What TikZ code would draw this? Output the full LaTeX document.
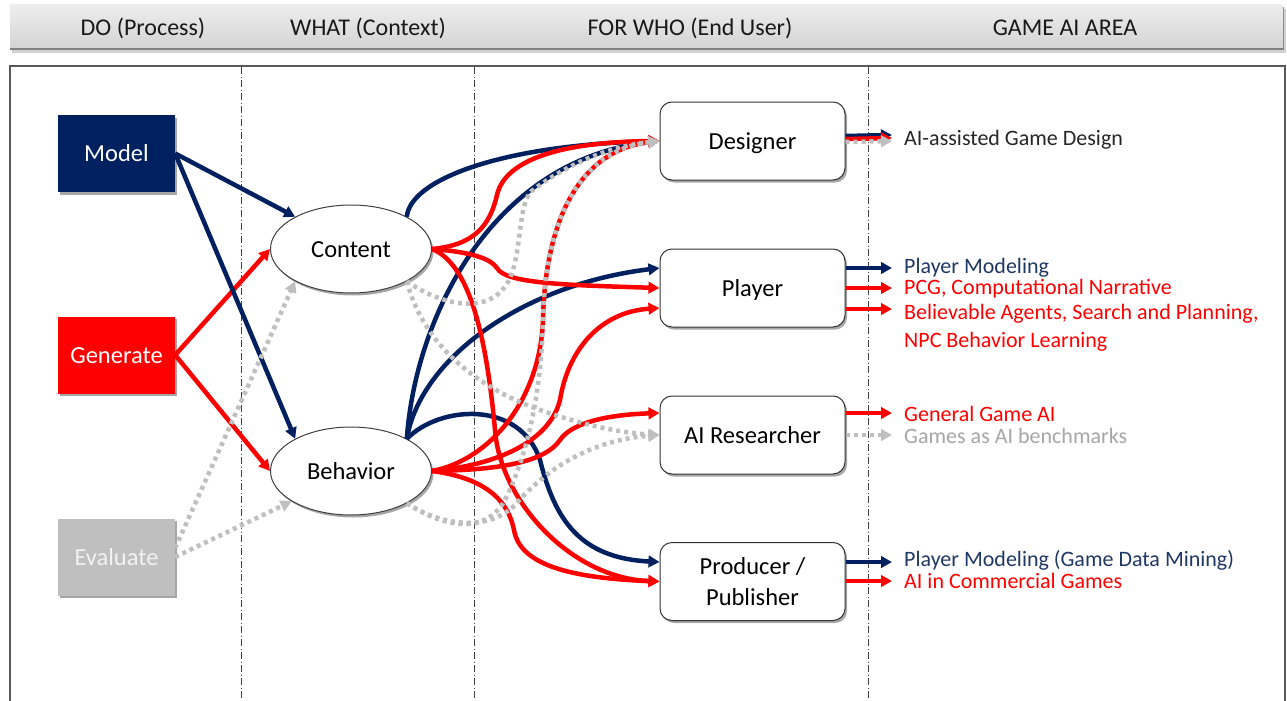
\documentclass[tikz,border=0pt]{standalone}
\usepackage{fontspec}
\setmainfont{Carlito}
\usetikzlibrary{arrows.meta,shapes.geometric,shadows,calc}
\definecolor{navy}{HTML}{002060}
\definecolor{navytext}{HTML}{1F3864}
\definecolor{myred}{HTML}{FF0000}
\definecolor{mygray}{HTML}{BFBFBF}
\definecolor{labgray}{HTML}{A6A6A6}
\definecolor{aadcol}{HTML}{262626}
\definecolor{framegray}{HTML}{595959}
\definecolor{hbartop}{HTML}{EDEDED}
\definecolor{hbarbot}{HTML}{D4D4D4}
\tikzset{
  shad/.style={drop shadow={shadow xshift=2pt,shadow yshift=-2.5pt,opacity=0.35,fill=black}},
  procbox/.style={rectangle, minimum width=117pt, minimum height=77pt, text=white, inner sep=0pt,
    text height=16pt, text depth=0pt, font=\fontsize{24.5}{29}\selectfont, shad},
  ctxnode/.style={ellipse, draw=black!75, line width=1pt, fill=white, minimum width=161pt,
    minimum height=88pt, inner sep=0pt, text height=16pt, text depth=0pt,
    font=\fontsize{24.5}{29}\selectfont, shad},
  userbox/.style={rectangle, rounded corners=12pt, draw=black!80, line width=1pt, fill=white,
    minimum width=185pt, minimum height=78pt, inner sep=0pt, align=center,
    font=\fontsize{24.5}{31}\selectfont, shad},
  hdr/.style={font=\fontsize{24}{28}\selectfont, text=black!90, inner sep=0pt, text height=16pt, text depth=0pt},
  lab/.style={anchor=west, inner xsep=12pt, inner ysep=0pt, text height=14pt, text depth=0pt,
    font=\fontsize{22}{26}\selectfont},
  arrtip/.style={-{Triangle[length=11pt,width=11.5pt]}},
  navyln/.style={draw=navy, line width=4.5pt, arrtip},
  redln/.style={draw=myred, line width=4.5pt, arrtip},
  grayln/.style={draw=mygray, line width=4.5pt, dash pattern=on 4pt off 4pt, arrtip},
  vsep/.style={draw=black!75, line width=1pt, dash pattern=on 7pt off 2.5pt on 1pt off 2.5pt},
}
\begin{document}
\begin{tikzpicture}[x=1pt,y=-1pt]
\useasboundingbox (0,0) rectangle (1287,701);
\fill[white] (0,0) rectangle (1287,701);
% header bar
\fill[black!18] (12,9) rectangle (1286,53);
\fill[black!50] (10,7) rectangle (1284,50);
\shade[top color=hbartop, bottom color=hbarbot] (10,5) rectangle (1283,48);
\node[hdr] (hdo) at (143,28) {DO (Process)};
\node[hdr] (hwhat) at (368,28) {WHAT (Context)};
\node[hdr] (hwho) at (690,28) {FOR WHO (End User)};
\node[hdr] (harea) at (1065,28) {GAME AI AREA};
% frame
\draw[framegray, line width=1.2pt] (10,710) -- (10,66) -- (1285,66) -- (1285,710);
\draw[vsep] (241,67) -- (241,701);
\draw[vsep] (474,67) -- (474,701);
\draw[vsep] (868,67) -- (868,701);
% left process boxes
\node[procbox, fill=navy] (model) at (116.5,153.5) {Model};
\node[procbox, fill=myred] (generate) at (116.5,355) {Generate};
\node[procbox, fill=mygray, text=white!95!black] (evaluate) at (116.5,557) {Evaluate};
% context ellipses
\node[ctxnode] (content) at (351,249) {Content};
\node[ctxnode] (behavior) at (351,471) {Behavior};
% user boxes
\node[userbox, text height=16pt, text depth=0pt] (designer) at (752.5,141) {Designer};
\node[userbox, text height=16pt, text depth=0pt] (player) at (752.5,288) {Player};
\node[userbox, text height=16pt, text depth=0pt] (air) at (752.5,435) {AI Researcher};
\node[userbox] (prod) at (752.5,581.5) {Producer /\\Publisher};
% area labels
\node[lab, text=aadcol] (aad) at (892,138) {AI-assisted Game Design};
\node[lab, text=navytext] (pm1) at (892,266) {Player Modeling};
\node[lab, text=myred] (pcg) at (892,287) {PCG, Computational Narrative};
\node[lab, text=myred] (bel) at (892,312) {Believable Agents, Search and Planning,};
\node[lab, text=myred] (npc) at (892,340) {NPC Behavior Learning};
\node[lab, text=myred] (gga) at (892,414) {General Game AI};
\node[lab, text=labgray] (gab) at (892,436) {Games as AI benchmarks};
\node[lab, text=navytext] (pm2) at (892,559.5) {Player Modeling (Game Data Mining)};
\node[lab, text=myred] (aic) at (892,581.5) {AI in Commercial Games};
% process -> context
\draw[redln] (generate.east) -- (content.west);
\draw[redln] (generate.east) -- (behavior.west);
\draw[navyln] (model.east) -- (content.150);
\draw[navyln] (model.east) -- (behavior.150);
\draw[grayln] ($(evaluate.east)+(0,-9)$) -- (content.210);
\draw[grayln] (evaluate.east) -- (behavior.207);
% context -> users, navy
\draw[navyln] (content.30) .. controls (410,180) and (500,145) .. (designer.west);
\draw[navyln] (behavior.30) .. controls (415,320) and (490,160) .. (designer.west);
\draw[navyln] (behavior.30) .. controls (420,360) and (520,285) .. ($(player.west)+(0,-20)$);
\draw[navyln] (behavior.30) .. controls (440,405) and (520,400) .. (540,460) .. controls (555,520) and (580,558) .. ($(prod.west)+(0,-19.5)$);
% red
\draw[redln] (content.east) .. controls (475,245) and (490,225) .. (497,195) .. controls (505,160) and (560,142) .. (designer.west);
\draw[redln] (content.east) .. controls (470,252) and (490,258) .. (497,268) .. controls (505,283) and (560,285) .. (player.west);
\draw[redln] (content.east) .. controls (465,262) and (485,320) .. (495,430) .. controls (500,500) and (570,578) .. (prod.west);
\draw[redln] (behavior.east) .. controls (490,460) and (540,400) .. (543,320) .. controls (545,220) and (580,150) .. (designer.west);
\draw[redln] (behavior.east) .. controls (500,465) and (550,440) .. (560,400) .. controls (568,350) and (600,312) .. ($(player.west)+(0,20)$);
\draw[redln] (behavior.east) .. controls (500,470) and (545,462) .. (560,440) .. controls (570,425) and (600,415) .. ($(air.west)+(0,-22)$);
\draw[redln] (behavior.east) .. controls (485,478) and (508,500) .. (514,530) .. controls (520,565) and (570,578) .. (prod.west);
% gray dotted
\draw[grayln] (content.330) .. controls (422,340) and (470,385) .. (540,410) .. controls (580,424) and (620,433) .. (air.west);
\draw[grayln] (behavior.330) .. controls (445,528) and (490,530) .. (515,505) .. controls (545,470) and (590,440) .. (air.west);
\draw[grayln] (content.330) .. controls (440,305) and (492,318) .. (510,278) .. controls (522,250) and (518,205) .. (531.2,191.3) .. controls (565.6,165.1) and (607.6,146.7) .. (designer.west);
\draw[grayln] (behavior.330) .. controls (445,528) and (485,535) .. (505,500) .. controls (525,460) and (541,400) .. (543,320) .. controls (545,220) and (580,150) .. (designer.west);
% users -> areas
\draw[navyln] ($(designer.east)+(0,-5)$) -- ($(aad.west)+(0,-3)$);
\draw[redln] ($(designer.east)+(0,-2)$) -- ($(aad.west)+(0,0)$);
\draw[grayln] ($(designer.east)+(0,1)$) -- ($(aad.west)+(0,3)$);
\draw[navyln] ($(player.east)+(0,-20)$) -- ($(pm1.west)+(0,2)$);
\draw[redln] (player.east) -- ($(pcg.west)+(0,1)$);
\draw[redln] ($(player.east)+(0,21)$) -- ($(bel.west)+(0,-3)$);
\draw[redln] ($(air.east)+(0,-22)$) -- ($(gga.west)+(0,-1)$);
\draw[grayln] (air.east) -- ($(gab.west)+(0,-1)$);
\draw[navyln] ($(prod.east)+(0,-19.5)$) -- ($(pm2.west)+(0,2.5)$);
\draw[redln] ($(prod.east)+(0,-0.5)$) -- ($(aic.west)+(0,-0.5)$);
\end{tikzpicture}
\end{document}
